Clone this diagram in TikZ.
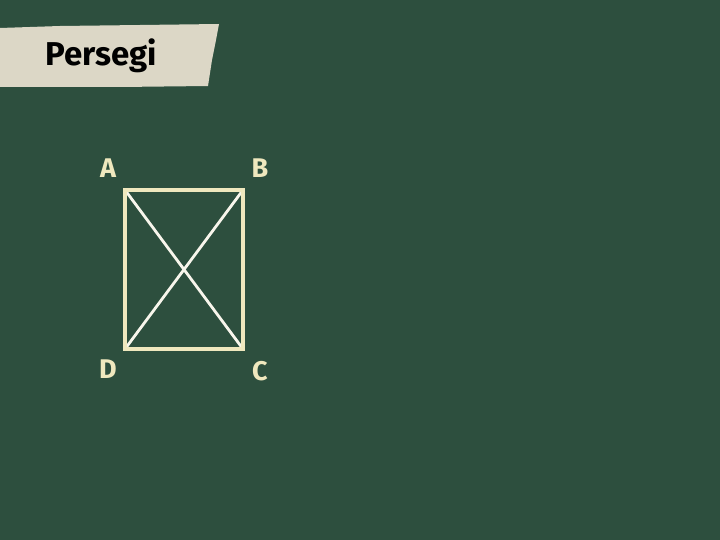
\documentclass[tikz,border=0pt]{standalone}
\usepackage{fontspec}
\setmainfont{Fira Sans}
\definecolor{board}{HTML}{2D4F3E}
\definecolor{tape}{HTML}{DCD7C6}
\definecolor{chalk}{HTML}{EFE8BE}
\definecolor{chalkw}{HTML}{F8F6EC}
\begin{document}
\begin{tikzpicture}[x=1pt,y=-1pt,
  lbl/.style={text=chalk,font=\bfseries\fontsize{27}{30}\selectfont}]
\useasboundingbox (0,0) rectangle (720,540);
\fill[board] (0,0) rectangle (720,540);
% tape
\fill[tape] (0,28) -- (60,26) -- (140,25) -- (219,24) -- (216,40) -- (212,60) -- (208,86) -- (120,87) -- (0,87) -- cycle;
\node[font=\bfseries\fontsize{33}{36}\selectfont,text=black] (title) at (101,56) {Persegi};
% square corners
\coordinate (A) at (125,190);
\coordinate (B) at (243,190);
\coordinate (C) at (243,349);
\coordinate (D) at (125,349);
\draw[chalkw,line width=2.8pt] (A) -- (C);
\draw[chalkw,line width=2.8pt] (B) -- (D);
\draw[chalk,line width=4.5pt,line join=miter] (A) -- (B) -- (C) -- (D) -- cycle;
\node[lbl] (la) at (108,168) {A};
\node[lbl] (lb) at (260,168) {B};
\node[lbl] (lc) at (260,371) {C};
\node[lbl] (ld) at (108,369) {D};
\end{tikzpicture}
\end{document}
